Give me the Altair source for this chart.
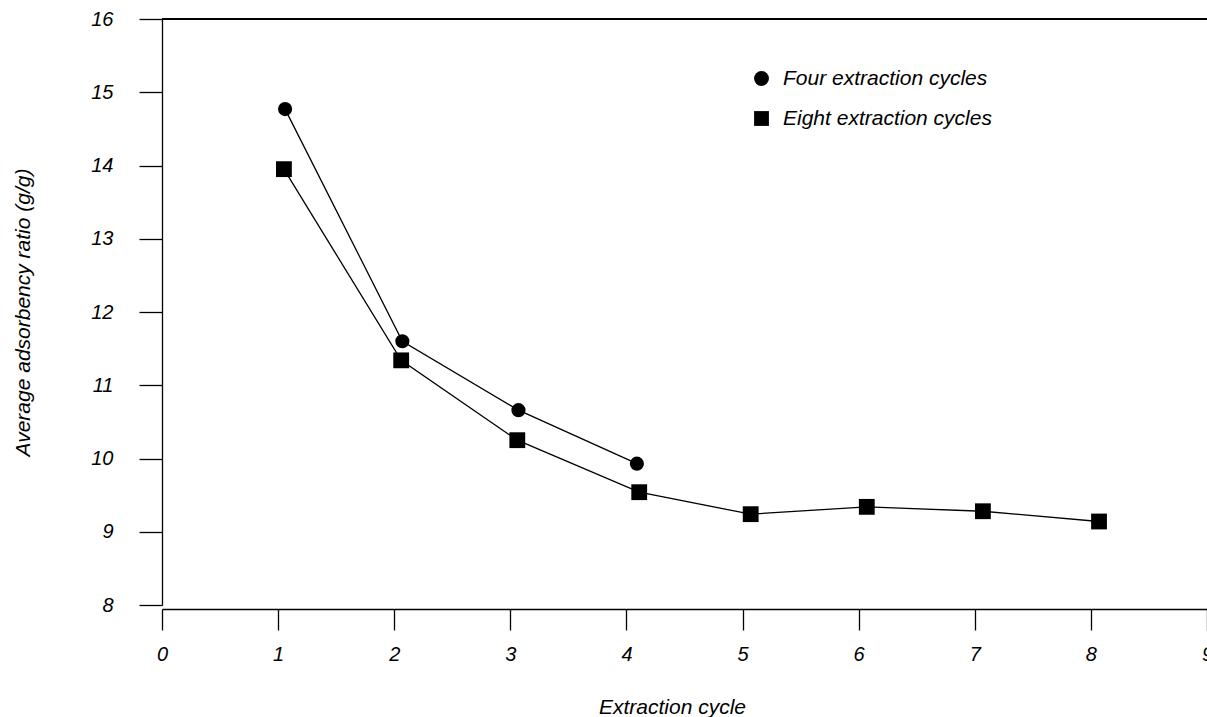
import altair as alt
import pandas as pd

# ---- data ----
series = ["Four extraction cycles", "Eight extraction cycles"]
four_x = [1.06, 2.07, 3.07, 4.09]
four_y = [14.77, 11.60, 10.66, 9.93]
eight_x = [1.05, 2.06, 3.06, 4.11, 5.07, 6.07, 7.07, 8.07]
eight_y = [13.95, 11.34, 10.25, 9.54, 9.24, 9.34, 9.28, 9.14]
x_ticks = [0, 1, 2, 3, 4, 5, 6, 7, 8, 9]
y_ticks = [8, 9, 10, 11, 12, 13, 14, 15, 16]
x_domain = [0, 9]
y_domain = [8, 16]

df = pd.DataFrame(
    {"x": four_x, "y": four_y, "series": [series[0]] * len(four_x)}
)
df = pd.concat(
    [df, pd.DataFrame({"x": eight_x, "y": eight_y, "series": [series[1]] * len(eight_x)})],
    ignore_index=True,
)

FONT = "Liberation Sans"

x_enc = alt.X(
    "x:Q",
    scale=alt.Scale(domain=x_domain, nice=False, zero=False),
    axis=alt.Axis(
        values=x_ticks, format="d", title="Extraction cycle",
        titleFont=FONT, titleFontStyle="italic", titleFontSize=21, titleFontWeight="normal",
        titleColor="black", titleX=510, titleY=104, titleAlign="center", titleBaseline="alphabetic",
        labelFont=FONT, labelFontStyle="italic", labelFontSize=20, labelColor="black",
        labelPadding=14, labelFlush=False, labelOverlap=False,
        tickSize=21, tickColor="black", tickWidth=1.3,
        domainColor="black", domainWidth=1.3, grid=False, offset=4,
    ),
)
y_enc = alt.Y(
    "y:Q",
    scale=alt.Scale(domain=y_domain, nice=False, zero=False),
    axis=alt.Axis(
        values=y_ticks, format="d", title="Average adsorbency ratio (g/g)",
        titleFont=FONT, titleFontStyle="italic", titleFontSize=21, titleFontWeight="normal",
        titleColor="black", titleAngle=270, titleX=-139, titleY=293,
        titleAlign="center", titleBaseline="middle",
        labelFont=FONT, labelFontStyle="italic", labelFontSize=20, labelColor="black",
        labelPadding=26, labelFlush=False, labelOverlap=False,
        tickSize=23, tickColor="black", tickWidth=1.3,
        domainColor="black", domainWidth=1.3, grid=False,
    ),
)

shape_enc = alt.Shape(
    "series:N",
    scale=alt.Scale(domain=series, range=["circle", "square"]),
    legend=alt.Legend(
        title=None, orient="none", legendX=589, legendY=49, padding=0,
        symbolSize=220, symbolFillColor="black", symbolStrokeColor="black",
        symbolStrokeWidth=0, labelFont=FONT, labelFontStyle="italic",
        labelFontSize=21, labelColor="black", labelOffset=11, rowPadding=18,
        labelLimit=0,
    ),
)

base = alt.Chart(df)

lines = base.mark_line(color="black", strokeWidth=1.3).encode(
    x=x_enc, y=y_enc, detail="series:N"
)

circles = (
    base.transform_filter(alt.datum.series == series[0])
    .mark_point(filled=True, color="black", opacity=1, size=200)
    .encode(x=x_enc, y=y_enc, shape=shape_enc)
)
squares = (
    base.transform_filter(alt.datum.series == series[1])
    .mark_point(filled=True, color="black", opacity=1, size=250)
    .encode(x=x_enc, y=y_enc, shape=shape_enc)
)

top_frame = alt.Chart(df).mark_rule(color="black", strokeWidth=1.3).encode(
    x=alt.datum(x_domain[0]), x2=alt.datum(x_domain[1]), y=alt.datum(y_domain[1])
)

chart = (
    alt.layer(top_frame, lines, circles, squares)
    .properties(
        width=1045,
        height=586,
        autosize=alt.AutoSizeParams(type="none"),
        padding={"left": 162, "top": 19, "right": 0, "bottom": 112},
        background="white",
    )
    .configure_view(stroke=None)
)

chart.save("out.html", embed_options={"renderer": "svg", "actions": False})
